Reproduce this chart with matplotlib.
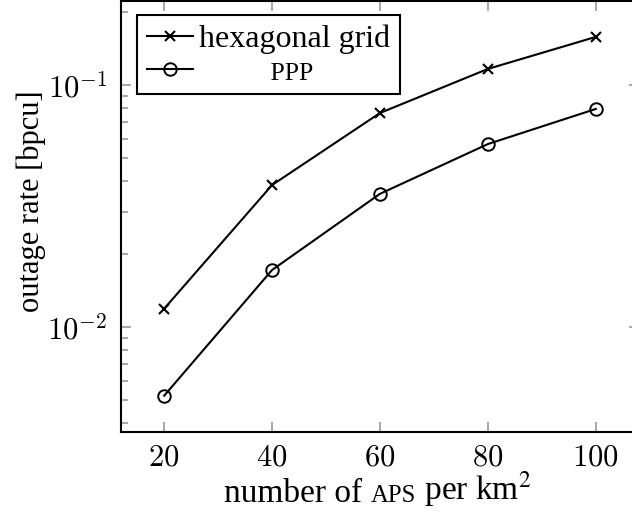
import matplotlib
matplotlib.use('Agg')
import matplotlib.pyplot as plt
import numpy as np
from matplotlib.ticker import FixedLocator, FixedFormatter, LogLocator, NullFormatter

aps = [20, 40, 60, 80, 100]
hex_rate = [0.0119, 0.0386, 0.0766, 0.1165, 0.158]
ppp_rate = [0.0052, 0.0172, 0.0355, 0.057, 0.0796]
x_ticks = [20, 40, 60, 80, 100]
x_tick_labels = [r'$20$', r'$40$', r'$60$', r'$80$', r'$100$']
y_ticks = [1e-2, 1e-1]
y_tick_labels = [r'$10^{-2}$', r'$10^{-1}$']

plt.rcParams['font.family'] = 'serif'
plt.rcParams['font.serif'] = ['Liberation Serif', 'DejaVu Serif']
plt.rcParams['mathtext.fontset'] = 'cm'

fig = plt.figure(figsize=(6.32, 5.17), dpi=100)
ax = fig.add_axes([121/632, 85/517, 518/632, 431.5/517])

ax.plot(aps, hex_rate, color='black', lw=1.5, marker='x', ms=7, mew=1.5,
        label='hexagonal grid')
ax.plot(aps, ppp_rate, color='black', lw=1.5, marker='o', ms=9, mew=1.4,
        mfc='none', label=' ' * 11 + 'PPP')

ax.set_yscale('log')
ax.set_xlim(12, 108)
ax.set_ylim(10 ** -2.434, 10 ** -0.651)

ax.xaxis.set_major_locator(FixedLocator(x_ticks))
ax.xaxis.set_major_formatter(FixedFormatter(x_tick_labels))
ax.xaxis.set_minor_locator(FixedLocator([]))
ax.yaxis.set_major_locator(FixedLocator(y_ticks))
ax.yaxis.set_major_formatter(FixedFormatter(y_tick_labels))
ax.yaxis.set_minor_locator(LogLocator(base=10, subs=np.arange(2, 10)))
ax.yaxis.set_minor_formatter(NullFormatter())

ax.tick_params(which='both', direction='in', top=True, right=True,
               color='#9a9a9a', width=1.2, labelsize=22)
ax.tick_params(which='major', length=7.2)
ax.tick_params(which='minor', length=4.7)
ax.tick_params(axis='x', pad=8)
ax.tick_params(axis='y', pad=10)

for s in ax.spines.values():
    s.set_linewidth(1.5)

# y label
yl = ax.set_ylabel('outage rate [bpcu]', fontsize=22)
yl.set_va('center')
ax.yaxis.set_label_coords(-0.174, 0.534)

# x label with small caps APs
d = 0.22
fs_main = 24
fs_sc = 17.8
t1 = ax.text(0.199, -0.1622, 'number of ', transform=ax.transAxes,
             fontsize=fs_main, ha='left', va='baseline')
t2 = ax.annotate('APS', xy=(1, 0), xycoords=t1, xytext=(0, (fs_main - fs_sc) * d),
                 textcoords='offset points', fontsize=fs_sc, ha='left', va='bottom')
t3 = ax.annotate(' per km$^2$', xy=(1, 0), xycoords=t2,
                 xytext=(0, -(fs_main - fs_sc) * d),
                 textcoords='offset points', fontsize=fs_main, ha='left',
                 va='bottom', math_fontfamily='stix')

leg = ax.legend(loc='upper left', bbox_to_anchor=(0.0309, 0.966),
                borderaxespad=0, fontsize=23, frameon=True, fancybox=False,
                edgecolor='black', framealpha=1, handlelength=1.45,
                handletextpad=0.2, borderpad=0.3, labelspacing=0.1)
leg.get_frame().set_linewidth(1.5)
leg.get_texts()[1].set_fontsize(18.5)

fig.savefig('out.png', dpi=100)
